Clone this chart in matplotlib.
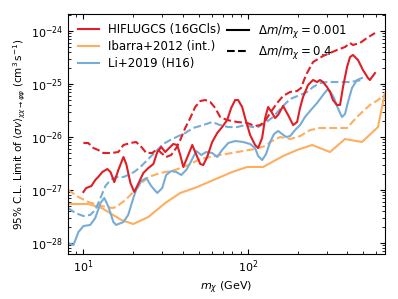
import matplotlib
matplotlib.use("Agg")
import matplotlib.pyplot as plt
from matplotlib.lines import Line2D
from matplotlib.ticker import LogLocator, NullFormatter, LogFormatterSciNotation

# HIFLUGCS (16GCls), dm/m = 0.001 (solid)
hif_solid_m = [10.0, 10.4, 11.18, 11.8, 12.3, 13.04, 13.98, 14.6, 15.41, 16.3,
               17.5, 18.2, 19.3, 20.37, 21.5, 23.1, 24.8, 26.6, 28.09, 29.7,
               31.4, 33.2, 35.1, 37.1, 38.7, 40.4, 43.3, 45.8, 47.7, 51.2,
               53.4, 56.4, 60.5, 64.9, 69.5, 74.6, 78.88, 83.4, 86.9, 92.0,
               95.9, 102.8, 110.2, 115.0, 121.6, 126.8, 132.2, 139.8, 145.8, 152.0,
               163.0, 174.8, 187.5, 198.2, 206.6, 215.4, 231.0, 247.8, 262.0, 273.0,
               284.8, 301.1, 314.0, 327.4, 346.1, 361.2, 376.7, 398.4, 415.4, 432.9,
               464.2, 497.7, 533.7, 548.3, 588.8]
hif_solid_sv = [9.17e-28, 1.09e-27, 1.19e-27, 1.54e-27, 1.76e-27, 2.19e-27, 2.49e-27, 2.19e-27, 1.41e-27, 2.39e-27,
                4.20e-27, 3.10e-27, 1.35e-27, 9.17e-28, 1.30e-27, 2.09e-27, 2.60e-27, 3.10e-27, 5.21e-27, 6.48e-27,
                5.21e-27, 6.20e-27, 7.38e-27, 7.07e-27, 4.58e-27, 2.72e-27, 4.58e-27, 7.07e-27, 5.21e-27, 3.10e-27,
                2.96e-27, 4.20e-27, 8.05e-27, 1.19e-26, 1.54e-26, 2.09e-26, 3.53e-26, 4.99e-26, 4.99e-26, 3.68e-26,
                2.28e-26, 1.09e-26, 7.07e-27, 6.20e-27, 9.575e-27, 2.28e-26, 3.68e-26, 2.84e-26, 2.28e-26, 2.60e-26,
                3.85e-26, 2.60e-26, 1.68e-26, 1.92e-26, 3.53e-26, 5.69e-26, 9.575e-26, 1.19e-25, 1.09e-25, 1.19e-25,
                1.09e-25, 8.78e-26, 7.07e-26, 4.99e-26, 4.02e-26, 4.02e-26, 8.78e-26, 2.09e-25, 3.23e-25, 3.53e-25,
                2.84e-25, 1.84e-25, 1.30e-25, 1.19e-25, 1.61e-25]

# HIFLUGCS (16GCls), dm/m = 0.4 (dashed)
hif_dash_m = [10.0, 10.7, 11.5, 12.3, 13.22, 14.8, 16.3, 17.5, 19.3, 20.9,
              22.5, 24.1, 26.18, 28.09, 29.7, 31.8, 34.1, 36.6, 38.7, 41.5,
              44.5, 47.7, 51.2, 54.9, 58.9, 63.1, 67.6, 74.6, 85.7, 98.6,
              110.2, 118.2, 126.8, 135.9, 149.9, 163.0, 179.7, 198.2, 209.5, 218.4,
              227.8, 247.8, 284.8, 346.1, 387.4, 415.4, 432.9, 477.5, 526.3, 588.8]
hif_dash_sv = [7.71e-27, 7.71e-27, 6.20e-27, 5.69e-27, 4.99e-27, 4.99e-27, 5.21e-27, 7.07e-27, 7.71e-27, 8.05e-27,
               6.48e-27, 4.99e-27, 4.99e-27, 5.94e-27, 4.99e-27, 4.20e-27, 4.58e-27, 6.20e-27, 8.78e-27, 1.48e-26,
               2.28e-26, 3.68e-26, 4.78e-26, 4.99e-26, 4.58e-26, 3.53e-26, 2.39e-26, 2.09e-26, 1.92e-26, 1.84e-26,
               1.61e-26, 1.68e-26, 2.00e-26, 2.84e-26, 4.38e-26, 5.94e-26, 7.07e-26, 7.38e-26, 8.41e-26, 1.19e-25,
               1.61e-25, 2.60e-25, 3.38e-25, 4.38e-25, 4.99e-25, 5.94e-25, 5.45e-25, 5.94e-25, 7.38e-25, 9.17e-25]

# Ibarra+2012 (int.), solid
iba_solid_m = [8.07, 10.7, 12.9, 17.0, 20.1, 24.8, 31.4, 38.7, 49.1, 61.4,
               80.0, 98.6, 123.3, 163.0, 198.2, 244.4, 314.0, 387.4, 491.0, 613.8, 676.1]
iba_solid_sv = [5.45e-28, 5.45e-28, 4.58e-28, 2.72e-28, 2.28e-28, 3.10e-28, 5.69e-28, 8.78e-28, 1.14e-27, 1.54e-27,
                2.19e-27, 2.72e-27, 2.72e-27, 4.38e-27, 5.69e-27, 7.07e-27, 5.21e-27, 9.17e-27, 8.05e-27, 1.54e-26, 6.77e-26]

# Ibarra+2012 (int.), dashed
iba_dash_m = [8.07, 9.33, 10.7, 12.9, 14.99, 15.8, 18.0, 20.1, 22.2, 24.8,
              29.3, 36.1, 43.3, 51.2, 63.1, 85.7, 110.2, 126.8, 139.8, 156.3,
              179.7, 206.6, 237.5, 273.0, 398.4, 457.7, 548.3, 613.8, 676.1]
iba_dash_sv = [1.0e-27, 7.38e-28, 5.94e-28, 4.99e-28, 4.58e-28, 4.78e-28, 6.48e-28, 9.17e-28, 1.30e-27, 1.76e-27,
               2.09e-27, 2.39e-27, 2.96e-27, 3.85e-27, 4.38e-27, 5.21e-27, 5.94e-27, 6.77e-27, 8.41e-27, 1.0e-26,
               9.17e-27, 1.04e-26, 1.35e-26, 1.48e-26, 1.48e-26, 2.39e-26, 4.02e-26, 4.99e-26, 6.20e-26]

# Li+2019 (H16), solid
li_solid_m = [8.07, 8.70, 9.33, 10.0, 11.0, 11.8, 12.7, 13.4, 14.2, 15.2,
              15.8, 17.5, 18.7, 20.1, 20.9, 22.5, 24.1, 25.8, 28.09, 30.1,
              31.8, 34.1, 36.6, 39.3, 42.1, 44.5, 48.4, 51.9, 55.65, 60.5,
              64.9, 69.5, 75.7, 83.4, 93.3, 102.8, 110.2, 115.0, 121.6, 128.5,
              135.9, 143.7, 152.0, 160.7, 170.0, 179.7, 192.6, 206.6, 221.5, 237.5,
              262.0, 284.8, 301.1, 314.0, 332.1, 346.1, 361.2, 371.5, 387.4, 403.9,
              427.0, 457.7, 491.0]
li_solid_sv = [1.0e-28, 9.17e-29, 1.61e-28, 2.09e-28, 2.19e-28, 2.96e-28, 5.69e-28, 7.07e-28, 4.78e-28, 2.49e-28,
               2.19e-28, 2.49e-28, 3.38e-28, 7.07e-28, 1.0e-27, 1.48e-27, 1.68e-27, 1.19e-27, 8.78e-28, 1.09e-27,
               1.92e-27, 2.28e-27, 2.19e-27, 1.92e-27, 2.39e-27, 3.23e-27, 5.45e-27, 4.58e-27, 5.21e-27, 4.99e-27,
               4.20e-27, 5.69e-27, 7.71e-27, 8.41e-27, 8.05e-27, 7.38e-27, 6.20e-27, 4.38e-27, 3.68e-27, 4.78e-27,
               8.05e-27, 1.14e-26, 1.30e-26, 1.14e-26, 1.0e-26, 1.04e-26, 1.35e-26, 1.68e-26, 2.39e-26, 3.10e-26,
               4.38e-26, 6.20e-26, 7.71e-26, 7.38e-26, 5.45e-26, 3.85e-26, 2.84e-26, 2.39e-26, 2.72e-26, 4.58e-26,
               8.41e-26, 1.19e-25, 1.30e-25]

# Li+2019 (H16), dashed
li_dash_m = [8.07, 8.94, 10.0, 11.0, 11.8, 12.7, 13.6, 14.6, 15.8, 17.5,
             19.3, 20.7, 22.5, 25.5, 27.7, 30.5, 33.7, 37.7, 41.5, 46.4,
             53.4, 60.5, 67.6, 75.7, 85.7, 95.9, 105.7, 115.0, 126.8, 141.8,
             160.7, 179.7, 206.6, 227.8, 247.8, 273.0, 301.1, 361.2, 415.4, 491.0]
li_dash_sv = [4.58e-28, 3.68e-28, 3.23e-28, 3.38e-28, 4.20e-28, 7.07e-28, 1.19e-27, 1.54e-27, 1.76e-27, 1.76e-27,
              2.00e-27, 2.28e-27, 2.84e-27, 4.20e-27, 5.45e-27, 7.38e-27, 8.78e-27, 1.04e-26, 1.19e-26, 1.48e-26,
              1.68e-26, 1.92e-26, 1.68e-26, 1.54e-26, 1.54e-26, 1.68e-26, 1.54e-26, 1.54e-26, 1.84e-26, 2.39e-26,
              3.68e-26, 5.21e-26, 6.20e-26, 7.07e-26, 8.78e-26, 1.04e-25, 1.09e-25, 1.09e-25, 1.09e-25, 1.19e-25]

labels = ["HIFLUGCS (16GCls)", "Ibarra+2012 (int.)", "Li+2019 (H16)"]
style_labels = [r"$\Delta m/m_\chi = 0.001$", r"$\Delta m/m_\chi = 0.4$"]
x_major_ticks = [10, 100]
y_major_ticks = [1e-28, 1e-27, 1e-26, 1e-25, 1e-24]

c_red = "#de1f26"
c_orange = "#fdae61"
c_blue = "#77acd6"

plt.rcParams["font.family"] = "DejaVu Sans"
plt.rcParams["font.size"] = 8

fig = plt.figure(figsize=(3.98, 2.99), dpi=100)
ax = fig.add_axes([0.171, 0.1505, 0.796, 0.8025])

lw = 1.5
ax.plot(iba_solid_m, iba_solid_sv, color=c_orange, lw=lw, ls="-")
ax.plot(iba_dash_m, iba_dash_sv, color=c_orange, lw=lw, ls="--")
ax.plot(li_solid_m, li_solid_sv, color=c_blue, lw=lw, ls="-")
ax.plot(li_dash_m, li_dash_sv, color=c_blue, lw=lw, ls="--")
ax.plot(hif_solid_m, hif_solid_sv, color=c_red, lw=lw, ls="-")
ax.plot(hif_dash_m, hif_dash_sv, color=c_red, lw=lw, ls="--")

ax.set_xscale("log")
ax.set_yscale("log")
ax.set_xlim(8.07, 676)
ax.set_ylim(6.2e-29, 2.09e-24)
ax.set_xticks(x_major_ticks)
ax.set_yticks(y_major_ticks)
ax.xaxis.set_major_formatter(LogFormatterSciNotation())
ax.yaxis.set_major_formatter(LogFormatterSciNotation())
ax.xaxis.set_minor_locator(LogLocator(base=10, subs=range(2, 10)))
ax.yaxis.set_minor_locator(LogLocator(base=10, subs=range(2, 10), numticks=20))
ax.xaxis.set_minor_formatter(NullFormatter())
ax.yaxis.set_minor_formatter(NullFormatter())
ax.tick_params(which="both", direction="in", top=True, right=True, labelsize=8)

ax.set_xlabel(r"$m_\chi$ (GeV)", fontsize=8, labelpad=3)
ax.set_ylabel(r"95% C.L. Limit of $\langle\sigma v\rangle_{\chi\chi\rightarrow\varphi\varphi}$ (cm$^3\,$s$^{-1}$)",
              fontsize=7.5, labelpad=2)

h1 = [Line2D([], [], color=c, lw=lw) for c in (c_red, c_orange, c_blue)]
leg1 = ax.legend(h1, labels, loc="upper left", frameon=False, fontsize=8.5,
                 bbox_to_anchor=(0.0, 1.0), handlelength=1.8, borderpad=0.3,
                 labelspacing=0.32)
ax.add_artist(leg1)
h2 = [Line2D([], [], color="black", lw=lw, ls="-"), Line2D([], [], color="black", lw=lw, ls="--")]
ax.legend(h2, style_labels, loc="upper left", frameon=False, fontsize=8.5,
          bbox_to_anchor=(0.473, 1.0), handlelength=1.8, borderpad=0.3,
          labelspacing=0.32)

fig.savefig("out.png", dpi=100)
